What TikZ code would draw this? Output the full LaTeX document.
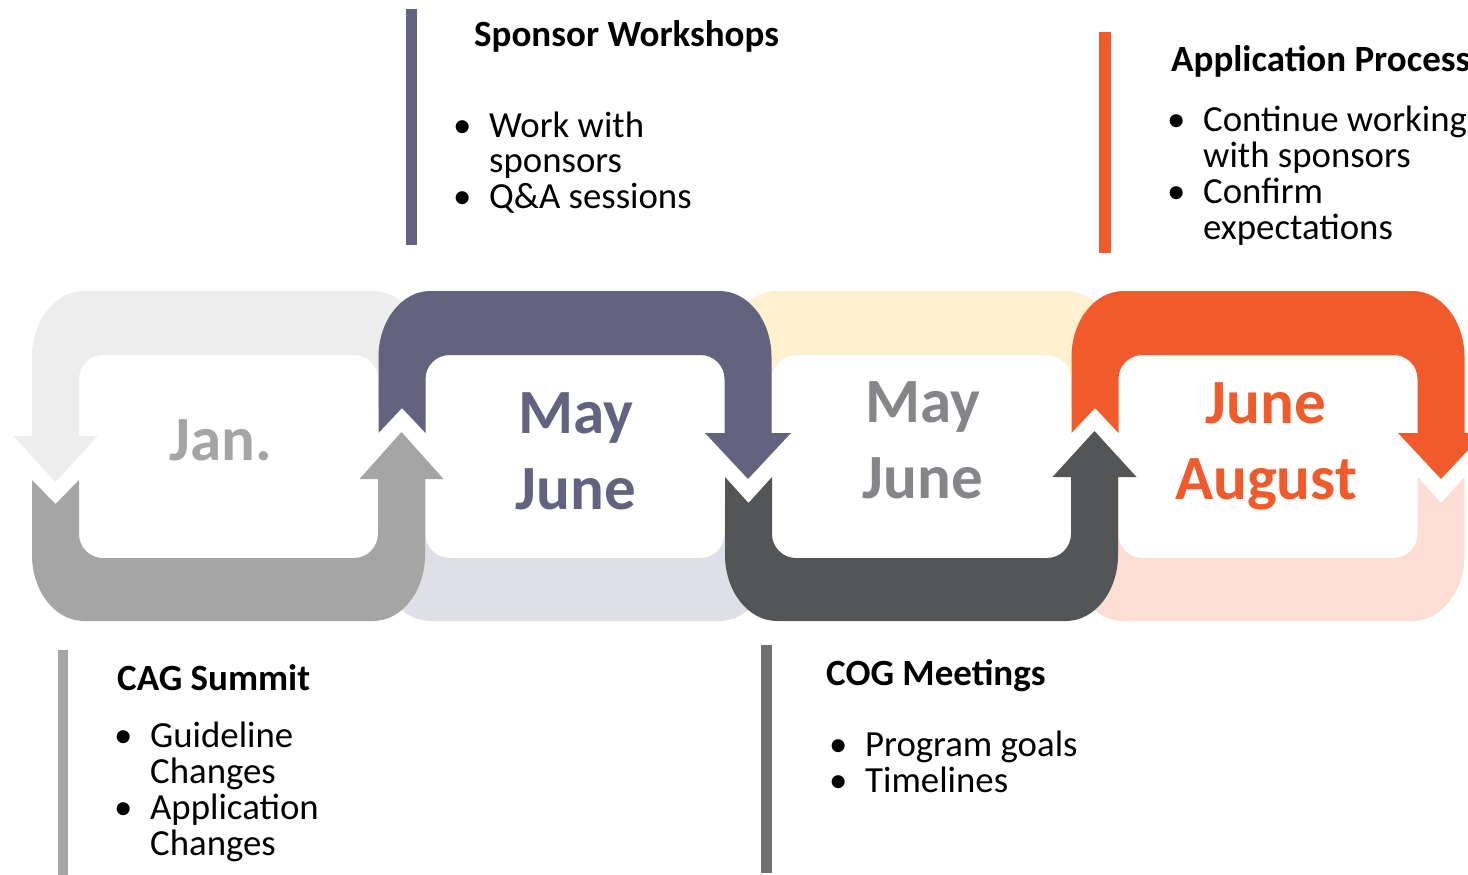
\documentclass[tikz,border=0pt]{standalone}
\usepackage{fontspec}
\setmainfont{Carlito}
\definecolor{ltgray}{HTML}{EDEDED}
\definecolor{midgray}{HTML}{A5A5A5}
\definecolor{purp}{HTML}{636380}
\definecolor{lav}{HTML}{DFDFE8}
\definecolor{cream}{HTML}{FFF0D0}
\definecolor{dkgray}{HTML}{545557}
\definecolor{graytxt}{HTML}{86858A}
\definecolor{orng}{HTML}{F15A2B}
\definecolor{peach}{HTML}{FCDED4}
\definecolor{cogbar}{HTML}{707070}

% top half of a loop: #1 outer left x, #2 colour, #3 right end, #4 left end
\newcommand{\TopBand}[4]{%
 \pgfmathsetmacro\xa{#1}\pgfmathsetmacro\xb{#1+393}%
 \pgfmathsetmacro\xc{#1+23.5}\pgfmathsetmacro\xd{#1+369.5}%
 \fill[#2] (\xa,357) arc[start angle=180,end angle=270,x radius=52,y radius=66]
   -- (\xb-52,291) arc[start angle=270,end angle=360,x radius=52,y radius=66]
   -- #3 -- (\xb-47,379) arc[start angle=0,end angle=-90,radius=24]
   -- (\xa+71,355) arc[start angle=270,end angle=180,radius=24]
   -- #4 -- cycle;}
% bottom half of a loop
\newcommand{\BotBand}[4]{%
 \pgfmathsetmacro\xa{#1}\pgfmathsetmacro\xb{#1+393}%
 \pgfmathsetmacro\xc{#1+23.5}\pgfmathsetmacro\xd{#1+369.5}%
 \fill[#2] (\xa,555) arc[start angle=180,end angle=90,x radius=52,y radius=66]
   -- (\xb-52,621) arc[start angle=90,end angle=0,x radius=52,y radius=66]
   -- #3 -- (\xb-47,534) arc[start angle=0,end angle=90,radius=24]
   -- (\xa+71,558) arc[start angle=90,end angle=180,radius=24]
   -- #4 -- cycle;}

\tikzset{
  panel/.style={rounded corners=24pt, fill=white, draw=none, minimum width=299pt, minimum height=203pt, inner sep=0pt},
  month/.style={font=\bfseries\fontsize{63}{76}\selectfont, inner sep=0pt, anchor=base},
  headtxt/.style={font=\bfseries\fontsize{37}{37}\selectfont, inner sep=0pt, anchor=base west},
  blist/.style={font=\fontsize{36.8}{35.5}\selectfont, inner sep=0pt, anchor=base west},
}
\newcommand{\bul}{\makebox[36pt][l]{•}}

\begin{document}
\begin{tikzpicture}[x=1pt,y=-1pt]
\useasboundingbox (0,0) rectangle (1468,875);

% white panels
\node[panel] (p1) at (228.5,456.5) {};
\node[panel] (p2) at (575.5,456.5) {};
\node[panel] (p3) at (922,456.5) {};
\node[panel] (p4) at (1268.5,456.5) {};

% light halves
\TopBand{32}{ltgray}{(\xb,408) -- (\xb-47,408)}{(\xa+47,436) -- (\xc+42,436) -- (\xc,482) -- (\xc-42,436) -- (\xa,436)}
\BotBand{378.5}{lav}{(\xb,503) -- (\xb-47,503)}{(\xa+47,479) -- (\xa,479)}
\TopBand{725}{cream}{(\xb,408) -- (\xb-47,408)}{(\xa+47,433) -- (\xa,433)}
\BotBand{1071.5}{peach}{(\xb,477) -- (\xd,503) -- (\xb-47,477)}{(\xa+47,477) -- (\xa,477)}

% dark halves
\BotBand{32}{midgray}{(\xb,479) -- (\xd+42,479) -- (\xd,432) -- (\xd-42,479) -- (\xb-47,479)}{(\xa+47,480) -- (\xc,504) -- (\xa,480)}
\TopBand{378.5}{purp}{(\xb,433) -- (\xd+43,433) -- (\xd,479) -- (\xd-43,433) -- (\xb-47,433)}{(\xa+47,433) -- (\xc,408) -- (\xa,433)}
\BotBand{725}{dkgray}{(\xb,477) -- (\xd+42,477) -- (\xd,431) -- (\xd-42,477) -- (\xb-47,477)}{(\xa+47,477) -- (\xc,503) -- (\xa,477)}
\TopBand{1071.5}{orng}{(\xb,433) -- (\xd+43,433) -- (\xd,479) -- (\xd-43,433) -- (\xb-47,433)}{(\xa+47,433) -- (\xc,408) -- (\xa,433)}

% month labels
\node[month, text=midgray] (t1) at (221,460) {Jan.};
\node[month, text=purp] (t2) at (576,433) {\begin{tabular}[t]{@{}c@{}}May\\June\end{tabular}};
\node[month, text=graytxt] (t3) at (923,422) {\begin{tabular}[t]{@{}c@{}}May\\June\end{tabular}};
\node[month, text=orng] (t4) at (1266,423) {\begin{tabular}[t]{@{}c@{}}June\\August\end{tabular}};

% bars
\fill[purp] (406,9) rectangle (417,245);
\fill[orng] (1099,32) rectangle (1111,253);
\fill[midgray] (58,650) rectangle (68,875);
\fill[cogbar] (761,645) rectangle (772,873);

% headings and lists
\node[headtxt] (h2) at (474,47) {Sponsor Workshops};
\node[blist] (l2) at (453,137) {\begin{tabular}[t]{@{}l@{}l@{}}\bul & Work with\\ & sponsors\\ \bul & Q\&A sessions\end{tabular}};

\node[headtxt] (h4) at (1171,72) {Application Process};
\node[blist] (l4) at (1167,131) {\begin{tabular}[t]{@{}l@{}l@{}}\bul & Continue working\\ & with sponsors\\ \bul & Confirm\\ & expectations\end{tabular}};

\node[headtxt] (h1) at (117,690) {CAG Summit};
\node[blist] (l1) at (114,747) {\begin{tabular}[t]{@{}l@{}l@{}}\bul & Guideline\\ & Changes\\ \bul & Application\\ & Changes\end{tabular}};

\node[headtxt] (h3) at (826,685) {COG Meetings};
\node[blist] (l3) at (829,756) {\begin{tabular}[t]{@{}l@{}l@{}}\bul & Program goals\\ \bul & Timelines\end{tabular}};
\end{tikzpicture}
\end{document}
